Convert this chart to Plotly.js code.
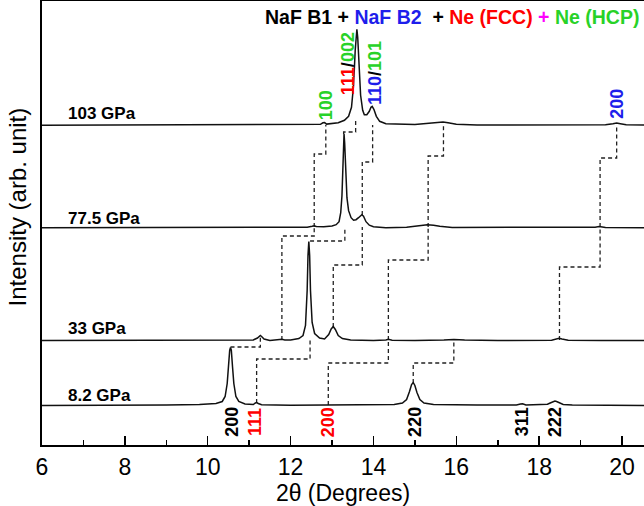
<!DOCTYPE html>
<html>
<head>
<meta charset="utf-8">
<script src="https://cdn.plot.ly/plotly-3.0.1.min.js"></script>
<style>html,body{margin:0;padding:0;background:#fff;}#chart{width:644px;height:506px;}</style>
</head>
<body>
<div id="chart"></div>
<script>
// ---- data (2θ in degrees, intensity in arbitrary units) ----
const pressures = ['8.2 GPa', '33 GPa', '77.5 GPa', '103 GPa'];
const offsets = [39.5, 104.5, 217.3, 319.7];

const x8 = [6.0, 7.0, 8.0, 9.0, 9.8, 10.2, 10.35, 10.42, 10.47, 10.5, 10.53, 10.55, 10.57, 10.6, 10.63, 10.68, 10.75, 10.9, 11.1, 11.15, 11.18, 11.22, 11.3, 12.0, 12.85, 12.9, 12.95, 14.0, 14.5, 14.7, 14.8, 14.87, 14.92, 14.96, 15.0, 15.05, 15.12, 15.22, 15.45, 16.5, 17.45, 17.55, 17.6, 17.68, 18.0, 18.2, 18.28, 18.34, 18.38, 18.42, 18.48, 18.58, 18.8, 19.5, 20.6];
const y8 = [0, 0, 0.3, 0.5, 1, 2, 4, 9, 22, 40, 55, 58, 55, 38, 22, 9, 4, 1.5, 1, 2.5, 3, 2, 0.8, 0.3, 0.3, 0.8, 0.3, 0.3, 1, 2.5, 6, 14, 21, 23, 20, 13, 6, 2.5, 1, 0.5, 0.5, 1.5, 1.8, 0.5, 0.5, 1.2, 2.8, 4, 4.5, 4, 2.8, 1, 0.5, 0.3, 0];

const x33 = [6.0, 7.5, 9.0, 10.5, 11.1, 11.2, 11.25, 11.27, 11.3, 11.36, 11.5, 11.72, 11.79, 11.86, 12.0, 12.2, 12.3, 12.36, 12.4, 12.42, 12.44, 12.46, 12.48, 12.52, 12.58, 12.7, 12.82, 12.92, 12.98, 13.03, 13.08, 13.15, 13.25, 13.45, 14.0, 14.3, 14.36, 14.45, 15.0, 15.7, 15.94, 16.2, 17.0, 18.3, 18.42, 18.48, 18.55, 18.7, 19.5, 20.6];
const y33 = [0, 0, 0, 0, 0.5, 2.5, 4.5, 5, 4, 1.5, 0, 0.5, 1.2, 0.5, 0.5, 2, 5, 15, 50, 85, 99, 85, 50, 18, 7, 2.5, 1.5, 6, 11.5, 14, 11, 5, 2, 0.5, 0, 0.5, 1.2, 0.3, 0, 0.5, 1, 0.5, 0, 0.3, 1.5, 2.2, 1.5, 0.3, 0, 0];

const x77 = [6.0, 8.0, 10.0, 11.5, 12.4, 12.52, 12.57, 12.62, 12.8, 13.0, 13.1, 13.17, 13.21, 13.24, 13.26, 13.28, 13.29, 13.305, 13.33, 13.36, 13.4, 13.46, 13.52, 13.58, 13.64, 13.69, 13.72, 13.76, 13.82, 13.9, 14.0, 14.3, 14.8, 15.0, 15.15, 15.3, 15.45, 15.6, 15.9, 17.0, 18.5, 19.35, 19.45, 19.5, 19.6, 20.6];
const y77 = [0, 0, 0.3, 0.5, 0.5, 1.5, 2, 1.2, 1, 1.8, 3, 6, 15, 32, 55, 85, 94, 85, 55, 30, 17, 10, 7.5, 8, 10, 12.5, 13, 11.5, 6, 2.5, 1, 0, 0.5, 1.5, 2.5, 3, 2.5, 1.5, 0.3, 0.2, 0.2, 0.5, 1.2, 1, 0.3, 0];

const x103 = [6.0, 8.0, 10.0, 11.5, 12.5, 12.72, 12.78, 12.82, 12.87, 13.0, 13.15, 13.3, 13.4, 13.47, 13.52, 13.56, 13.58, 13.6, 13.62, 13.65, 13.69, 13.74, 13.78, 13.84, 13.9, 13.94, 13.97, 14.01, 14.07, 14.15, 14.3, 15.0, 15.4, 15.55, 15.68, 15.8, 16.0, 16.5, 18.0, 19.6, 19.78, 19.87, 19.96, 20.1, 20.6];
const y103 = [0, 0.3, 0, 0.5, 0.5, 1, 2.5, 2.7, 1.2, 1.5, 2.5, 5, 9, 18, 40, 75, 90, 96, 88, 60, 30, 15, 10.5, 10.5, 14, 18, 19, 16, 9, 4, 1.5, 0.8, 2, 3, 3.2, 2.5, 1, 0.3, 0.3, 0.5, 1.5, 2.2, 1.5, 0.5, 0.2];

// dashed guide lines following peaks between pressures
const guideX = [
  [10.55, 11.27, 11.27], [11.18, 11.18, 12.47, 12.47], [12.91, 12.91, 14.36, 14.36], [14.96, 14.96, 15.94, 15.94],
  [11.79, 11.79, 12.57, 12.57], [12.47, 13.31, 13.31], [13.03, 13.03, 13.73, 13.73], [14.36, 14.36, 15.32, 15.32], [18.49, 18.49, 19.47, 19.47],
  [12.57, 12.57, 12.85, 12.85], [13.28, 13.28, 13.57, 13.57], [13.73, 13.73, 13.98, 13.98], [15.32, 15.32, 15.69, 15.69], [19.47, 19.47, 19.87, 19.87]
];
const guideY = [
  [98, 98, 109], [42, 86, 86, 105], [40, 82, 82, 105], [62, 82, 82, 105],
  [105, 209, 209, 218], [204, 204, 218], [118, 180, 180, 218], [105, 185, 185, 218], [105, 178, 178, 218],
  [218, 291, 291, 320], [311, 313, 313, 327], [230, 283, 283, 320], [218, 289, 289, 320], [218, 287, 287, 320]
];

// peak index labels
const GREEN = 'rgb(40,210,40)', RED = 'rgb(255,0,0)', BLUE = 'rgb(30,30,235)', MAG = 'rgb(255,0,255)';
const peakLabelText = ['200', '111', '200', '220', '311', '222',
  '100', '<span style="color:' + RED + '">111</span>/<span style="color:' + GREEN + '">002</span>',
  '<span style="color:' + BLUE + '">110</span>/<span style="color:' + GREEN + '">101</span>', '200'];
const peakLabelX = [10.58, 11.14, 12.91, 15.0, 17.59, 18.38, 12.86, 13.39, 14.04, 19.87];
const peakLabelY = [23, 23, 23, 23, 23, 23, 340, 381, 372, 341];
const peakLabelColor = ['black', RED, RED, 'black', 'black', 'black', GREEN, 'black', 'black', BLUE];

const pressureLabelX = 6.58;
const pressureLabelY = [50, 117, 227, 332];

// ---- build ----
const FONT = 'Liberation Sans, Arial, sans-serif';
const series = [[x8, y8], [x33, y33], [x77, y77], [x103, y103]];
const traces = [];
guideX.forEach((gx, i) => {
  traces.push({x: gx, y: guideY[i], mode: 'lines', line: {color: '#222', width: 1.3, dash: '4px,3px'}, hoverinfo: 'skip', showlegend: false});
});
series.forEach((s, i) => {
  traces.push({x: s[0], y: s[1].map(v => v + offsets[i]), mode: 'lines', name: pressures[i],
    line: {color: '#111', width: 1.5}, showlegend: false});
});

const annotations = [];
peakLabelText.forEach((t, i) => {
  annotations.push({x: peakLabelX[i], y: peakLabelY[i], xref: 'x', yref: 'y', text: '<b>' + t + '</b>', showarrow: false,
    textangle: -90, xanchor: 'center', yanchor: 'middle', font: {family: FONT, size: 18, color: peakLabelColor[i]}});
});
pressures.forEach((p, i) => {
  annotations.push({x: pressureLabelX, y: pressureLabelY[i], xref: 'x', yref: 'y', text: '<b>' + p + '</b>', showarrow: false,
    xanchor: 'left', yanchor: 'middle', font: {family: FONT, size: 17, color: 'black'}});
});
annotations.push({xref: 'paper', yref: 'paper', x: 0.367, y: 0.964, xanchor: 'left', yanchor: 'middle', showarrow: false,
  text: '<b>NaF B1 + <span style="color:' + BLUE + '">NaF B2</span>&nbsp; + <span style="color:' + RED + '">Ne (FCC)</span> <span style="color:' + MAG + '">+</span> <span style="color:' + GREEN + '">Ne (HCP)</span></b>',
  font: {family: FONT, size: 19.5, color: 'black'}});
annotations.push({xref: 'paper', yref: 'paper', x: -0.04, y: 0.537, xanchor: 'center', yanchor: 'middle', showarrow: false,
  textangle: -90, text: 'Intensity (arb. unit)', font: {family: FONT, size: 24, color: 'black'}});

const layout = {
  width: 644, height: 506,
  margin: {l: 42, r: 0, t: 1, b: 61},
  paper_bgcolor: 'white', plot_bgcolor: 'white',
  font: {family: FONT, color: 'black'},
  showlegend: false,
  xaxis: {range: [6, 20.53], dtick: 2, tick0: 6, ticks: 'inside', ticklen: 9, tickwidth: 1.5, tickcolor: 'black',
    showline: true, linewidth: 2, linecolor: 'black', mirror: true, showgrid: false, zeroline: false,
    tickfont: {family: FONT, size: 23, color: 'black'},
    minor: {dtick: 1, ticks: 'inside', ticklen: 5, tickwidth: 1.5, tickcolor: 'black', showgrid: false},
    title: {text: '2θ (Degrees)', font: {family: FONT, size: 23, color: 'black'}, standoff: 2}},
  yaxis: {range: [0, 444], showline: true, linewidth: 2, linecolor: 'black', ticks: '', showticklabels: false,
    showgrid: false, zeroline: false},
  annotations: annotations
};
Plotly.newPlot('chart', traces, layout, {staticPlot: true, displayModeBar: false});
</script>
</body>
</html>
